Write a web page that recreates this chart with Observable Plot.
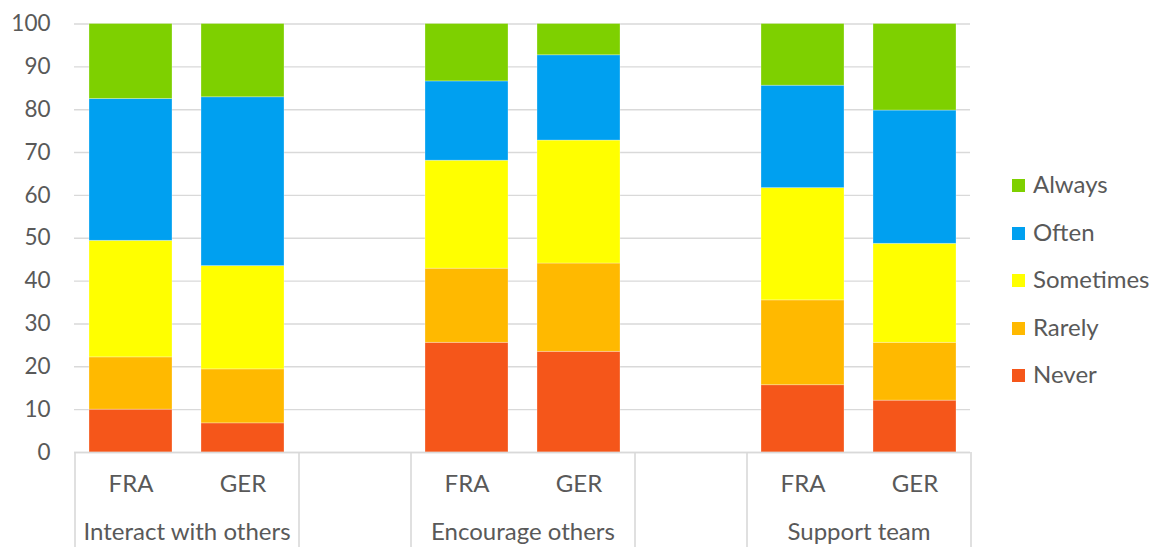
<!DOCTYPE html>
<html>
<head>
<meta charset="utf-8">
<script src="https://cdn.jsdelivr.net/npm/d3@7"></script>
<script src="https://cdn.jsdelivr.net/npm/@observablehq/plot@0.6"></script>
<style>
  html, body { margin: 0; padding: 0; background: #fff; }
  #wrap { position: relative; width: 1155px; height: 547px; overflow: hidden; font-family: Lato, sans-serif; color: #595959; }
  #legend { position: absolute; left: 1012px; top: 160px; }
  .item { display: flex; align-items: center; height: 47.5px; font-size: 24px; }
  .sw { width: 13px; height: 13px; margin-right: 8px; margin-top: 4px; }
</style>
</head>
<body>
<div id="wrap"></div>
<script>
const groups = ["Interact with others", "Encourage others", "Support team"];
const countries = ["FRA", "GER"];
const responses = ["Never", "Rarely", "Sometimes", "Often", "Always"];
const colors = ["#F5561A", "#FFB900", "#FFFF00", "#00A0F0", "#7ED000"];
// values per bar, in order: Interact FRA, Interact GER, Encourage FRA, Encourage GER, Support FRA, Support GER
const never     = [10.0,  6.8, 25.6, 23.5, 15.7, 12.1];
const rarely    = [12.2, 12.6, 17.3, 20.6, 19.8, 13.5];
const sometimes = [27.2, 24.1, 25.2, 28.7, 26.2, 23.1];
const often     = [33.1, 39.4, 18.5, 19.9, 23.9, 31.1];
const always    = [17.5, 17.1, 13.4,  7.3, 14.4, 20.2];
const yTicks = [0, 10, 20, 30, 40, 50, 60, 70, 80, 90, 100];

const series = [never, rarely, sometimes, often, always];

// slots: each group has FRA, GER, then an empty spacer slot (except after the last)
const slots = [];
groups.forEach((g, gi) => {
  countries.forEach(c => slots.push(g + "|" + c));
  if (gi < groups.length - 1) slots.push("gap" + gi);
});

const rows = [];
groups.forEach((g, gi) => {
  countries.forEach((c, ci) => {
    const b = gi * countries.length + ci;
    responses.forEach((r, ri) => {
      rows.push({slot: g + "|" + c, response: r, value: series[ri][b]});
    });
  });
});

const W = 1155, H = 547;
const mL = 74, mR = 185, mT = 23.5, mB = 95;
const half = (W - mL - mR) / slots.length / 2;

// separator rules at the start of each group / spacer, plus the end
const sepKeys = [];
slots.forEach((s, i) => {
  const grp = s.split("|")[0];
  const prev = i > 0 ? slots[i - 1].split("|")[0] : null;
  if (grp !== prev) sepKeys.push(s);
});

const groupLabels = groups.map(g => ({slot: g + "|" + countries[0], label: g}));

const chart = Plot.plot({
  width: W,
  height: H,
  marginLeft: mL,
  marginRight: mR,
  marginTop: mT,
  marginBottom: mB,
  style: {fontFamily: "Lato, sans-serif", fontSize: "22px", color: "#595959", background: "#fff", overflow: "visible"},
  x: {domain: slots, paddingInner: 0.26, paddingOuter: 0.13, label: null, axis: null},
  y: {domain: [0, 100], label: null, axis: null},
  color: {domain: responses, range: colors},
  marks: [
    Plot.gridY(yTicks, {stroke: "#d9d9d9", strokeOpacity: 1, strokeWidth: 1.4}),
    Plot.axisY(yTicks, {tickSize: 0, tickPadding: 24, label: null, fontSize: 22.5, fill: "#595959"}),
    Plot.barY(rows, Plot.stackY({order: responses, x: "slot", y: "value", fill: "response", stroke: "#ffffff", strokeOpacity: 0.35, strokeWidth: 0.8})),
    Plot.ruleY([0], {stroke: "#d9d9d9", strokeWidth: 1.6}),
    Plot.axisX({tickSize: 0, tickPadding: 22, label: null, fontSize: 24, fill: "#595959",
      tickFormat: d => d.startsWith("gap") ? "" : d.split("|")[1]}),
    Plot.ruleX(sepKeys, {x: d => d, y1: 0, y2: -23, dx: -half, stroke: "#d9d9d9", strokeWidth: 1.6, clip: false}),
    Plot.ruleX([slots[slots.length - 1]], {x: d => d, y1: 0, y2: -23, dx: half, stroke: "#d9d9d9", strokeWidth: 1.6, clip: false}),
    Plot.text(groupLabels, {x: "slot", text: "label", frameAnchor: "bottom", dx: half, dy: 87, fontSize: 24, fill: "#595959", clip: false})
  ]
});

const wrap = document.getElementById("wrap");
wrap.appendChild(chart);

const legend = document.createElement("div");
legend.id = "legend";
responses.slice().reverse().forEach(r => {
  const item = document.createElement("div");
  item.className = "item";
  const sw = document.createElement("span");
  sw.className = "sw";
  sw.style.background = colors[responses.indexOf(r)];
  const t = document.createElement("span");
  t.textContent = r;
  item.appendChild(sw);
  item.appendChild(t);
  legend.appendChild(item);
});
wrap.appendChild(legend);
</script>
</body>
</html>
